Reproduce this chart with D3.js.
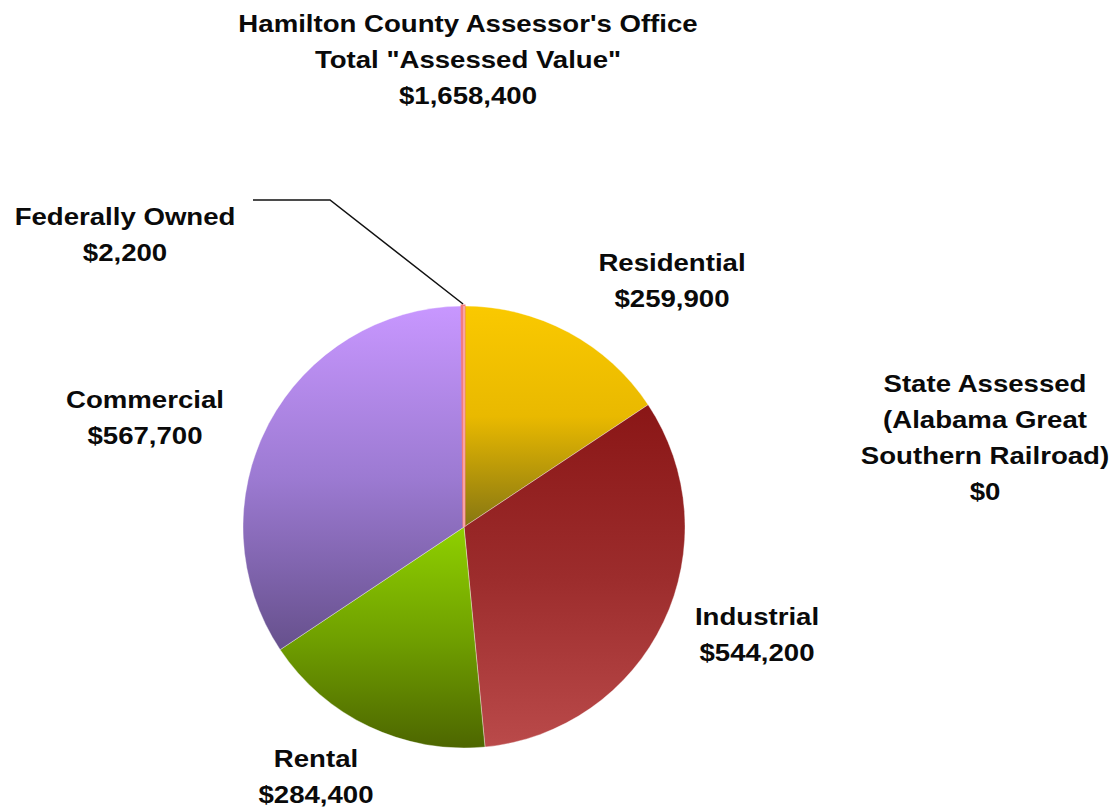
<!DOCTYPE html>
<html>
<head>
<meta charset="utf-8">
<style>
  body { margin: 0; background: #fff; }
  svg text { font-family: "Liberation Sans", Arial, sans-serif; font-weight: bold; fill: #0a0a0a; }
</style>
</head>
<body>
<svg id="chart" width="1117" height="807"></svg>
<script src="https://d3js.org/d3.v7.min.js"></script>
<script>

var categories = ["Residential", "Industrial", "Rental", "Commercial", "Federally Owned", "State Assessed"];
var values = [259900, 544200, 284400, 567700, 2200, 0];
var labelLines = [
  ["Residential"],
  ["Industrial"],
  ["Rental"],
  ["Commercial"],
  ["Federally Owned"],
  ["State Assessed", "(Alabama Great", "Southern Railroad)"]
];
var titleLines = ["Hamilton County Assessor's Office", "Total \"Assessed Value\""];

var svg = d3.select("#chart"),
    width = +svg.attr("width"),
    height = +svg.attr("height");

var cx = 464, cy = 527, radius = 221;
var stretch = 1.2;   // the source picture is stretched sideways
var lineH = 36;

var money = function(d) { return "$" + d3.format(",")(d); };
var total = d3.sum(values);

// top / middle / bottom colour for each slice
var shades = {
  "Residential":     ["#fac900", "#e9b900", "#867612"],
  "Industrial":      ["#8a1616", "#9c2c2c", "#ba4a4a"],
  "Rental":          ["#8fd000", "#70a000", "#4d6600"],
  "Commercial":      ["#c897ff", "#9c7ad2", "#66508c"],
  "Federally Owned": ["#f58080", "#ee7676", "#e06a6a"],
  "State Assessed":  ["#888", "#888", "#888"]
};

var pie = d3.pie().sort(null).value(function(d) { return d; });
var arcs = pie(values);
var arc = d3.arc().innerRadius(0).outerRadius(radius);

var defs = svg.append("defs");
arcs.forEach(function(a, i) {
  // vertical extent of the slice, relative to the centre
  var ys = [0];
  for (var k = 0; k <= 40; k++) {
    var t = a.startAngle + (a.endAngle - a.startAngle) * k / 40;
    ys.push(-Math.cos(t) * radius);
  }
  var g = defs.append("linearGradient")
      .attr("id", "grad-" + i)
      .attr("gradientUnits", "userSpaceOnUse")
      .attr("x1", 0).attr("x2", 0)
      .attr("y1", d3.min(ys)).attr("y2", d3.max(ys));
  var c = shades[categories[i]];
  g.append("stop").attr("offset", "0%").attr("stop-color", c[0]);
  g.append("stop").attr("offset", "50%").attr("stop-color", c[1]);
  g.append("stop").attr("offset", "100%").attr("stop-color", c[2]);
});

svg.append("g")
    .attr("class", "slices")
    .attr("transform", "translate(" + cx + "," + cy + ")")
  .selectAll("path")
  .data(arcs)
  .enter().append("path")
    .attr("d", arc)
    .attr("fill", function(d, i) { return "url(#grad-" + i + ")"; })
    .attr("stroke", function(d, i) { return categories[i] === "Federally Owned" ? "#f47c7c" : "rgba(255,255,255,0.35)"; })
    .attr("stroke-width", function(d, i) { return categories[i] === "Federally Owned" ? 3 : 1; });

function block(x, y, lines) {
  var t = svg.append("g").attr("transform", "translate(" + x + "," + y + ") scale(" + stretch + ",1)");
  lines.forEach(function(s, k) {
    t.append("text")
        .attr("x", 0)
        .attr("y", k * lineH)
        .attr("text-anchor", "middle")
        .style("font-size", "23px")
        .text(s);
  });
}

block(468, 32, titleLines.concat([money(total)]));

var labelPos = {
  "Residential":     [672, 271],
  "Industrial":      [757, 625],
  "Rental":          [316, 767],
  "Commercial":      [145, 408],
  "Federally Owned": [125, 225],
  "State Assessed":  [985, 392]
};

categories.forEach(function(c, i) {
  block(labelPos[c][0], labelPos[c][1], labelLines[i].concat([money(values[i])]));
});

// leader line to the thin federal slice
var fed = arcs[4];
var mid = (fed.startAngle + fed.endAngle) / 2;
svg.append("path")
    .attr("fill", "none")
    .attr("stroke", "#111")
    .attr("stroke-width", 1.5)
    .attr("d", d3.line()([
      [253, 200], [330, 200],
      [cx + Math.sin(mid) * (radius + 2), cy - Math.cos(mid) * (radius + 2)]
    ]));

</script>
</body>
</html>
